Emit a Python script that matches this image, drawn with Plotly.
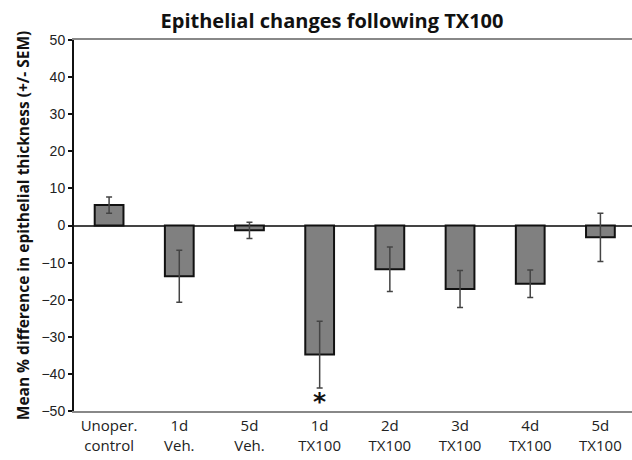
import plotly.graph_objects as go

categories = ["Unoper.<br>control", "1d<br>Veh.", "5d<br>Veh.", "1d<br>TX100",
              "2d<br>TX100", "3d<br>TX100", "4d<br>TX100", "5d<br>TX100"]
means = [5.5, -13.7, -1.3, -34.8, -11.8, -17.1, -15.7, -3.2]
sem = [2.2, 7.0, 2.2, 9.0, 6.0, 5.0, 3.7, 6.5]
star_index = 3
star_value = -47.5

x = list(range(len(categories)))

fig = go.Figure()
fig.add_trace(go.Bar(
    x=x, y=means,
    marker=dict(color="#808080", line=dict(color="#111111", width=2)),
    width=0.41,
    error_y=dict(type="data", array=sem, visible=True, color="#444444",
                 thickness=1.5, width=3),
    showlegend=False,
))

fig.add_annotation(x=star_index, y=star_value, text="<b>*</b>", showarrow=False,
                   font=dict(family="DejaVu Sans", size=25, color="#111111"),
                   yanchor="middle",
                   xref="x", yref="y")

fig.update_layout(
    width=632, height=460,
    margin=dict(l=74, r=0, t=40, b=49),
    paper_bgcolor="white", plot_bgcolor="white",
    title=dict(text="<b>Epithelial changes following TX100</b>",
               x=332 / 632, xanchor="center", y=1 - 21 / 460, yanchor="middle",
               font=dict(family="Open Sans", size=20, color="#111111")),
    bargap=0.59,
)

fig.update_xaxes(
    range=[-0.5, 7.45],
    tickmode="array", tickvals=x, ticktext=categories,
    showline=True, mirror=True, linecolor="#888888", linewidth=2,
    showgrid=False, zeroline=False, ticks="",
    tickfont=dict(family="Open Sans", size=15, color="#222222"),
)
fig.update_yaxes(
    range=[-50, 50], dtick=10,
    showline=True, linecolor="#111111", linewidth=2,
    ticks="outside", ticklen=4, tickwidth=2, tickcolor="#111111",
    showgrid=False,
    zeroline=True, zerolinecolor="#444444", zerolinewidth=2,
    tickfont=dict(family="Liberation Sans", size=14, color="#222222"),
    title=dict(text="<b>Mean % difference in epithelial thickness (+/- SEM)</b>",
               font=dict(family="Open Sans", size=15.5, color="#111111"),
               standoff=8),
)

fig.write_html("out.html")
